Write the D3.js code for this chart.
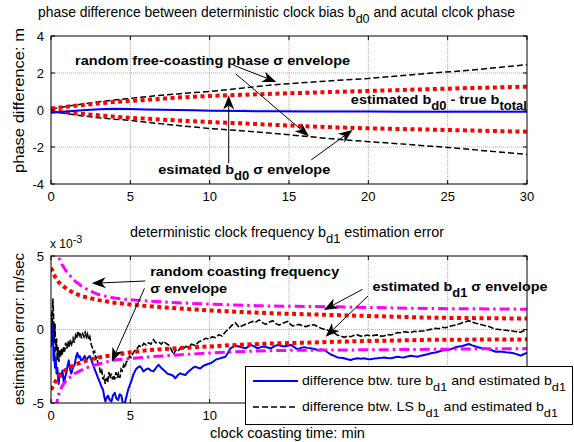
<!DOCTYPE html>
<html>
<head>
<meta charset="utf-8">
<script src="https://cdn.jsdelivr.net/npm/d3@7"></script>
<style>
  body { margin: 0; background: #fff; }
  svg { display: block; }
  text { font-family: "Liberation Sans", Arial, sans-serif; fill: #000; }
</style>
</head>
<body>
<svg id="chart" width="574" height="442"></svg>
<script>
// ---------- tick labels ----------
const timeTicks = [0, 5, 10, 15, 20, 25, 30];
const phaseTicks = [-4, -2, 0, 2, 4];
const freqTicks = [-5, 0, 5];

// ---------- phase panel (m) ----------
const phaseTime = [0, 1, 2, 3, 4, 5, 6, 7, 8, 9, 10, 12, 14, 16, 18, 20, 22, 24, 26, 28, 30];
const phaseRandomUpper = [0.05, 0.2, 0.33, 0.44, 0.54, 0.63, 0.72, 0.8, 0.87, 0.94, 1.0, 1.18, 1.36, 1.48, 1.6, 1.7, 1.85, 2.0, 2.12, 2.28, 2.45];
const phaseRandomLower = [-0.05, -0.2, -0.32, -0.42, -0.5, -0.56, -0.66, -0.75, -0.84, -0.92, -1.0, -1.12, -1.26, -1.42, -1.58, -1.71, -1.83, -1.96, -2.1, -2.25, -2.4];
const phaseEstUpper = [0.08, 0.18, 0.27, 0.36, 0.43, 0.49, 0.55, 0.61, 0.67, 0.72, 0.76, 0.82, 0.88, 0.93, 0.98, 1.03, 1.08, 1.13, 1.18, 1.22, 1.26];
const phaseEstLower = [-0.05, -0.13, -0.21, -0.29, -0.36, -0.42, -0.47, -0.52, -0.57, -0.61, -0.65, -0.72, -0.8, -0.88, -0.94, -0.99, -1.03, -1.06, -1.1, -1.14, -1.17];
const phaseError = [-0.15, -0.08, -0.02, 0.04, 0.07, 0.06, 0.03, 0.01, 0.0, -0.02, -0.04, -0.06, -0.07, -0.08, -0.08, -0.08, -0.09, -0.09, -0.09, -0.09, -0.09];

// ---------- frequency panel (x 1e-3 m/sec) ----------
const freqRandTime = [0.3, 0.45, 0.7, 1.0, 1.5, 2.0, 2.5, 3, 3.5, 4, 5, 6, 7, 8, 9, 10, 11.5, 13, 15, 17.5, 20, 22.5, 25, 27.5, 30];
const freqRandUpper = [5.8, 5.0, 4.4, 3.9, 3.3, 2.9, 2.6, 2.38, 2.25, 2.14, 2.02, 1.95, 1.88, 1.82, 1.77, 1.73, 1.67, 1.62, 1.58, 1.55, 1.5, 1.45, 1.42, 1.4, 1.38];
const freqRandLower = [-5.4, -4.5, -3.85, -3.4, -3.0, -2.72, -2.5, -2.35, -2.2, -2.08, -1.97, -1.88, -1.8, -1.73, -1.66, -1.6, -1.52, -1.46, -1.42, -1.4, -1.38, -1.36, -1.34, -1.31, -1.3];

const freqEstTime = [0, 0.25, 0.5, 1, 1.5, 2, 3, 4, 5, 6, 8, 10, 12, 14, 16, 18, 20, 22, 24, 26, 28, 30];
const freqEstUpper = [4.2, 3.6, 3.2, 2.75, 2.45, 2.25, 2.0, 1.82, 1.7, 1.6, 1.43, 1.3, 1.19, 1.1, 1.04, 0.98, 0.92, 0.86, 0.8, 0.78, 0.76, 0.75];
const freqEstLower = [-4.1, -3.6, -3.15, -2.68, -2.4, -2.18, -1.9, -1.73, -1.55, -1.42, -1.27, -1.15, -1.03, -0.95, -0.9, -0.83, -0.78, -0.74, -0.7, -0.69, -0.68, -0.67];

// LS estimate minus filter estimate
const lsTime = [0, 0.04, 0.08, 0.12, 0.16, 0.2, 0.25, 0.3, 0.35, 0.4, 0.45, 0.5, 0.55, 0.6, 0.65, 0.72, 0.8, 0.86, 0.92, 1.0,
  1.07, 1.15, 1.22, 1.3, 1.39, 1.47, 1.55, 1.62, 1.7, 1.78, 1.85, 1.92, 2.0, 2.08, 2.15, 2.23, 2.3, 2.38, 2.45, 2.53,
  2.6, 2.68, 2.75, 2.83, 2.9, 2.97, 3.05, 3.12, 3.2, 3.28, 3.35, 3.42, 3.5, 3.57, 3.65, 3.72, 3.8, 3.88, 3.95, 4.02,
  4.1, 4.18, 4.25, 4.34, 4.42, 4.5, 4.58, 4.66, 4.75, 4.86, 4.95, 5.05, 5.18, 5.3, 5.42, 5.55, 5.7, 5.85, 6.0, 6.15,
  6.3, 6.46, 6.6, 6.78, 6.95, 7.1, 7.25, 7.41, 7.55, 7.73, 7.85, 8.0, 8.15, 8.3, 8.5, 8.67, 8.85, 9.1, 9.3, 9.52,
  9.75, 9.94, 10.15, 10.36, 10.58, 10.78, 11.0, 11.2, 11.41, 11.62, 11.86, 12.05, 12.27, 12.5, 12.7, 12.9, 13.12, 13.35, 13.54, 13.75,
  13.96, 14.18, 14.38, 14.65, 14.91, 15.1, 15.22, 15.45, 15.65, 15.85, 16.07, 16.35, 16.6, 16.8, 17.01, 17.2, 17.43, 17.62, 17.85, 18.04,
  18.25, 18.47, 18.7, 18.89, 19.1, 19.31, 19.52, 19.73, 19.95, 20.15, 20.36, 20.57, 20.78, 20.99, 21.2, 21.42, 21.63, 21.84, 22.05, 22.26,
  22.47, 22.68, 22.89, 23.1, 23.31, 23.52, 23.73, 23.94, 24.24, 24.45, 24.66, 24.87, 25.08, 25.29, 25.5, 25.71, 25.92, 26.13, 26.34, 26.55,
  26.76, 26.97, 27.18, 27.39, 27.6, 27.82, 28.03, 28.24, 28.45, 28.66, 28.87, 29.08, 29.29, 29.45, 29.6, 29.75, 29.92, 30];
const lsError = [0.0, 1.2, 0.3, 2.1, 0.9, -0.9, 0.4, -1.5, -0.6, -2.1, -1.2, -2.2, -1.4, -1.9, -1.3, -1.7, -1.2, -1.5, -0.9, -1.3,
  -0.8, -1.2, -0.7, -1.0, -0.6, -0.9, -0.4, -0.6, -0.1, -0.4, -0.2, -0.6, -0.3, -0.5, -0.2, -0.5, -0.3, -0.7, -0.5, -1.0,
  -1.2, -1.6, -1.5, -2.0, -1.9, -2.4, -2.5, -3.0, -2.8, -3.4, -3.2, -3.7, -3.3, -3.6, -2.9, -3.3, -3.0, -3.4, -3.1, -3.4,
  -2.9, -3.3, -3.0, -3.3, -2.7, -2.8, -2.4, -2.6, -2.2, -2.1, -1.8, -1.9, -1.6, -1.4, -1.3, -1.1, -1.2, -0.95, -1.05, -0.9,
  -1.0, -0.7, -0.9, -0.85, -1.0, -0.8, -0.95, -1.05, -1.3, -1.7, -1.4, -1.5, -1.25, -1.35, -1.15, -1.2, -1.0, -1.1, -0.85, -0.75,
  -0.6, -0.65, -0.5, -0.55, -0.35, -0.45, -0.15, 0.05, 0.3, 0.45, 0.15, 0.25, 0.35, 0.45, 0.55, 0.5, 0.65, 0.45, 0.35, 0.5,
  0.6, 0.4, 0.3, 0.45, 0.55, 0.35, 0.25, 0.3, 0.35, 0.25, 0.2, 0.3, 0.32, 0.2, 0.08, 0.02, -0.03, -0.15, -0.25, -0.37,
  -0.45, -0.53, -0.45, -0.49, -0.4, -0.37, -0.45, -0.44, -0.38, -0.44, -0.4, -0.37, -0.45, -0.44, -0.35, -0.37, -0.3, -0.2, -0.22, -0.15,
  -0.18, -0.2, -0.12, -0.15, -0.1, -0.1, -0.04, 0.01, 0.08, 0.05, 0.15, 0.12, 0.2, 0.25, 0.31, 0.38, 0.46, 0.52, 0.6, 0.5,
  0.42, 0.38, 0.31, 0.25, 0.2, 0.1, 0.03, 0.0, -0.03, -0.05, -0.08, -0.1, -0.15, -0.12, -0.2, -0.1, -0.03, -0.05];

// true value minus filter estimate
const trueTime = [0, 0.03, 0.06, 0.09, 0.12, 0.16, 0.2, 0.25, 0.3, 0.35, 0.4, 0.48, 0.55, 0.65, 0.72, 0.82, 0.9, 0.96, 1.04, 1.12,
  1.2, 1.28, 1.38, 1.49, 1.57, 1.66, 1.74, 1.81, 1.9, 2.02, 2.12, 2.23, 2.33, 2.44, 2.55, 2.65, 2.75, 2.86, 2.97, 3.08,
  3.18, 3.28, 3.36, 3.43, 3.52, 3.6, 3.7, 3.81, 3.9, 4.02, 4.12, 4.23, 4.33, 4.44, 4.52, 4.6, 4.7, 4.86, 4.96, 5.07,
  5.18, 5.33, 5.45, 5.62, 5.75, 5.83, 6.0, 6.15, 6.3, 6.46, 6.62, 6.78, 6.9, 6.99, 7.15, 7.31, 7.45, 7.62, 7.75, 7.83,
  8.0, 8.15, 8.3, 8.47, 8.62, 8.78, 8.95, 9.1, 9.25, 9.41, 9.57, 9.73, 9.9, 10.04, 10.2, 10.36, 10.52, 10.68, 10.84, 10.99,
  11.15, 11.31, 11.45, 11.62, 11.86, 12.05, 12.27, 12.45, 12.59, 12.8, 13.01, 13.22, 13.43, 13.64, 13.85, 14.06, 14.28, 14.49, 14.7, 14.91,
  15.12, 15.33, 15.54, 15.75, 15.96, 16.17, 16.38, 16.59, 16.8, 17.01, 17.23, 17.43, 17.64, 17.85, 18.05, 18.26, 18.47, 18.68, 18.89, 19.1,
  19.31, 19.52, 19.73, 19.94, 20.15, 20.36, 20.57, 20.78, 20.99, 21.2, 21.42, 21.63, 21.84, 22.05, 22.26, 22.47, 22.68, 22.89, 23.1, 23.31,
  23.52, 23.73, 23.94, 24.24, 24.45, 24.66, 24.87, 25.08, 25.29, 25.5, 25.71, 25.92, 26.13, 26.34, 26.55, 26.76, 26.97, 27.18, 27.39, 27.6,
  27.82, 28.03, 28.24, 28.45, 28.66, 28.87, 29.08, 29.29, 29.45, 29.6, 29.75, 29.92, 30];
const trueError = [-1.2, -0.3, 0.3, -0.8, 0.2, -2.1, -1.2, -2.6, -1.9, -3.0, -2.6, -3.7, -3.0, -3.2, -2.8, -3.7, -3.2, -3.0, -2.5, -2.1,
  -2.7, -3.0, -2.6, -2.4, -1.9, -1.6, -1.9, -1.8, -2.1, -2.0, -1.8, -2.1, -1.9, -1.8, -2.1, -2.4, -2.7, -3.0, -3.3, -3.6,
  -3.9, -4.1, -4.6, -4.9, -4.6, -4.5, -4.8, -4.9, -4.5, -4.3, -4.7, -4.8, -4.4, -4.5, -5.0, -5.3, -4.8, -4.1, -3.8, -3.5,
  -3.1, -2.75, -2.6, -2.5, -2.7, -2.85, -2.7, -2.65, -2.8, -2.85, -2.6, -2.4, -2.55, -2.65, -2.8, -2.98, -3.05, -3.1, -3.2, -3.32,
  -3.1, -2.98, -3.05, -3.1, -2.9, -2.75, -2.6, -2.53, -2.6, -2.65, -2.5, -2.41, -2.35, -2.3, -2.2, -2.07, -2.0, -1.96, -1.9, -1.85,
  -1.6, -1.28, -1.2, -1.1, -1.16, -1.22, -1.28, -1.15, -1.05, -1.15, -1.28, -1.2, -1.16, -1.22, -1.28, -1.15, -1.05, -1.1, -1.16, -1.1,
  -1.05, -1.2, -1.35, -1.25, -1.2, -1.25, -1.28, -1.33, -1.39, -1.36, -1.39, -1.55, -1.7, -1.8, -1.9, -1.92, -1.96, -2.02, -2.07, -2.0,
  -1.96, -1.99, -1.96, -2.0, -2.03, -1.98, -1.96, -1.93, -1.9, -1.94, -1.96, -1.9, -1.85, -1.88, -1.9, -1.83, -1.78, -1.82, -1.85, -1.78,
  -1.73, -1.68, -1.62, -1.57, -1.5, -1.43, -1.42, -1.39, -1.3, -1.21, -1.16, -1.12, -1.05, -0.99, -1.08, -1.16, -1.22, -1.28, -1.3, -1.35,
  -1.43, -1.51, -1.49, -1.51, -1.55, -1.57, -1.6, -1.66, -1.72, -1.78, -1.7, -1.62, -1.6];

// ---------- layout ----------
const svg = d3.select("#chart");
const plotLeft = 51, plotRight = 527;
const topPanel = { top: 36, bottom: 184 };
const botPanel = { top: 256, bottom: 403 };
const legendBox = { x: 245.5, y: 366.5, w: 327, h: 58 };

const x = d3.scaleLinear().domain([0, 30]).range([plotLeft, plotRight]);
const yPhase = d3.scaleLinear().domain([-4, 4]).range([topPanel.bottom, topPanel.top]);
const yFreq = d3.scaleLinear().domain([-5, 5]).range([botPanel.bottom, botPanel.top]);

const defs = svg.append("defs");
function clip(id, p) {
  defs.append("clipPath").attr("id", id).append("rect")
    .attr("x", plotLeft).attr("y", p.top)
    .attr("width", plotRight - plotLeft).attr("height", p.bottom - p.top);
}
clip("clipTop", topPanel);
clip("clipBot", botPanel);

// text with TeX-like sub/superscripts: parts = [[string, "sub"|"sup"|undefined], ...]
// an optional span length stretches the run to a fixed width
function richText(g, px, py, parts, size, weight, span) {
  const t = g.append("text").attr("x", px).attr("y", py)
    .attr("font-size", size).attr("font-weight", weight || "normal");
  let offset = 0;
  parts.forEach(([s, kind]) => {
    const target = kind === "sub" ? Math.round(size * 0.45) : (kind === "sup" ? -Math.round(size * 0.45) : 0);
    const ts = t.append("tspan").text(s).attr("dy", target - offset);
    if (kind) ts.attr("font-size", size * 0.9);
    offset = target;
  });
  if (span) t.attr("textLength", span).attr("lengthAdjust", "spacingAndGlyphs");
  return t;
}

function panelFrame(p, yScale, gridY) {
  const g = svg.append("g");
  g.selectAll(".gx").data(timeTicks.slice(1, -1)).join("line")
    .attr("x1", d => x(d)).attr("x2", d => x(d))
    .attr("y1", p.top).attr("y2", p.bottom)
    .attr("stroke", "#9a9a9a").attr("stroke-width", 0.8).attr("stroke-dasharray", "1,1");
  g.selectAll(".gy").data(gridY).join("line")
    .attr("x1", plotLeft).attr("x2", plotRight)
    .attr("y1", d => yScale(d)).attr("y2", d => yScale(d))
    .attr("stroke", "#9a9a9a").attr("stroke-width", 0.8).attr("stroke-dasharray", "1,1");
  return g;
}

// xLabelTicks: which time ticks get a visible label (the legend sits over the rest)
function panelAxes(p, yScale, yTicks, xLabelTicks) {
  const g = svg.append("g");
  const tl = 4;
  g.append("rect").attr("x", plotLeft).attr("y", p.top)
    .attr("width", plotRight - plotLeft).attr("height", p.bottom - p.top)
    .attr("fill", "none").attr("stroke", "#000").attr("stroke-width", 1);
  // inward ticks on all four sides
  timeTicks.forEach(d => {
    g.append("line").attr("x1", x(d)).attr("x2", x(d)).attr("y1", p.bottom).attr("y2", p.bottom - tl).attr("stroke", "#000");
    g.append("line").attr("x1", x(d)).attr("x2", x(d)).attr("y1", p.top).attr("y2", p.top + tl).attr("stroke", "#000");
  });
  yTicks.forEach(d => {
    g.append("line").attr("x1", plotLeft).attr("x2", plotLeft + tl).attr("y1", yScale(d)).attr("y2", yScale(d)).attr("stroke", "#000");
    g.append("line").attr("x1", plotRight).attr("x2", plotRight - tl).attr("y1", yScale(d)).attr("y2", yScale(d)).attr("stroke", "#000");
  });
  g.selectAll(".xl").data(xLabelTicks).join("text")
    .attr("x", d => x(d)).attr("y", p.bottom + 16.5)
    .attr("text-anchor", "middle").attr("font-size", 13).text(d => d);
  g.selectAll(".yl").data(yTicks).join("text")
    .attr("x", plotLeft - 7).attr("y", d => yScale(d) + 4.7)
    .attr("text-anchor", "end").attr("font-size", 13).text(d => d);
  return g;
}

const lineGen = (yScale) => d3.line().x(d => x(d[0])).y(d => yScale(d[1]));
const zip = (a, b) => a.map((v, i) => [v, b[i]]);

// ================= phase panel =================
panelFrame(topPanel, yPhase, [-2, 0, 2]);
const gTop = svg.append("g").attr("clip-path", "url(#clipTop)");
[phaseRandomUpper, phaseRandomLower].forEach(s => {
  gTop.append("path").attr("d", lineGen(yPhase)(zip(phaseTime, s)))
    .attr("fill", "none").attr("stroke", "#000").attr("stroke-width", 1.5).attr("stroke-dasharray", "6,3");
});
[phaseEstUpper, phaseEstLower].forEach(s => {
  gTop.append("path").attr("d", lineGen(yPhase)(zip(phaseTime, s)))
    .attr("fill", "none").attr("stroke", "#ff0000").attr("stroke-width", 4).attr("stroke-dasharray", "4,3.5");
});
gTop.append("path").attr("d", lineGen(yPhase)(zip(phaseTime, phaseError)))
  .attr("fill", "none").attr("stroke", "#0000ff").attr("stroke-width", 2);
panelAxes(topPanel, yPhase, phaseTicks, timeTicks);

// ================= frequency panel =================
panelFrame(botPanel, yFreq, [0]);
const gBot = svg.append("g").attr("clip-path", "url(#clipBot)");
gBot.append("path").attr("d", lineGen(yFreq)(zip(trueTime, trueError)))
  .attr("fill", "none").attr("stroke", "#0000ff").attr("stroke-width", 2).attr("stroke-linejoin", "round");
gBot.append("path").attr("d", lineGen(yFreq)(zip(lsTime, lsError)))
  .attr("fill", "none").attr("stroke", "#000").attr("stroke-width", 1.6).attr("stroke-dasharray", "6,2");
[freqEstUpper, freqEstLower].forEach(s => {
  gBot.append("path").attr("d", lineGen(yFreq)(zip(freqEstTime, s)))
    .attr("fill", "none").attr("stroke", "#ff0000").attr("stroke-width", 4).attr("stroke-dasharray", "4,3.5");
});
[freqRandUpper, freqRandLower].forEach(s => {
  gBot.append("path").attr("d", lineGen(yFreq)(zip(freqRandTime, s)))
    .attr("fill", "none").attr("stroke", "#ff00ff").attr("stroke-width", 3).attr("stroke-dasharray", "10,4,2.5,4");
});
panelAxes(botPanel, yFreq, freqTicks, timeTicks.filter(d => x(d) + 10 < legendBox.x));

// ================= arrows =================
function arrow(yScale, from, to) {
  const x0 = x(from[0]), y0 = yScale(from[1]), x1 = x(to[0]), y1 = yScale(to[1]);
  const ang = Math.atan2(y1 - y0, x1 - x0);
  const L = 14, W = 5.5, notch = 4;
  const ux = Math.cos(ang), uy = Math.sin(ang);
  const bx = x1 - ux * L, by = y1 - uy * L;
  const nx = x1 - ux * (L - notch), ny = y1 - uy * (L - notch);
  svg.append("line").attr("x1", x0).attr("y1", y0).attr("x2", nx).attr("y2", ny)
    .attr("stroke", "#000").attr("stroke-width", 1);
  svg.append("path").attr("d",
    `M${x1},${y1}L${bx - uy * W},${by + ux * W}L${nx},${ny}L${bx + uy * W},${by - ux * W}Z`)
    .attr("fill", "#000");
}
arrow(yPhase, [11.5, 2.42], [14.2, 1.52]);
arrow(yPhase, [11.65, 1.95], [16.25, -1.42]);
arrow(yPhase, [11.2, -2.88], [11.2, 0.78]);
arrow(yPhase, [16.4, -2.7], [19.0, -1.08]);

arrow(yFreq, [5.94, 3.3], [2.57, 3.14]);
arrow(yFreq, [5.89, 2.8], [3.83, -2.19]);
arrow(yFreq, [19.63, 2.73], [17.2, 1.33]);
arrow(yFreq, [19.98, 2.28], [17.31, -0.49]);

// ================= annotations =================
const ann = svg.append("g");
richText(ann, x(1.52), yPhase(2.43), [["random free-coasting phase "], ["σ"], [" envelope"]], 13, "bold", 275);
richText(ann, x(18.9), yPhase(0.32), [["estimated b"], ["d0", "sub"], [" - true b"], ["total", "sub"]], 13.5, "bold", 176);
richText(ann, x(6.76), yPhase(-3.46), [["esimated b"], ["d0", "sub"], [" σ envelope"]], 13.5, "bold", 172);

richText(ann, x(6.25), yFreq(3.64), [["random coasting frequency"]], 13.5, "bold", 189);
richText(ann, x(6.25), yFreq(2.48), [["σ envelope"]], 13.5, "bold", 77);
richText(ann, x(20.26), yFreq(2.64), [["estimated b"], ["d1", "sub"], [" σ envelope"]], 13.5, "bold", 175);

// ================= titles and labels =================
richText(svg, 38, 17, [["phase difference between deterministic clock bias b"], ["d0", "sub"], [" and acutal clcok phase"]], 14, "normal", 477);
richText(svg, 130, 237, [["deterministic clock frequency b"], ["d1", "sub"], [" estimation error"]], 14, "normal", 314);
svg.append("text").attr("x", 210).attr("y", 438)
  .attr("font-size", 14.5).attr("textLength", 155).attr("lengthAdjust", "spacingAndGlyphs")
  .text("clock coasting time: min");
svg.append("text").attr("transform", `translate(24,173) rotate(-90)`)
  .attr("font-size", 14.5).attr("textLength", 145).attr("lengthAdjust", "spacingAndGlyphs")
  .text("phase difference: m");
svg.append("text").attr("transform", `translate(24,405) rotate(-90)`)
  .attr("font-size", 14.5).attr("textLength", 152).attr("lengthAdjust", "spacingAndGlyphs")
  .text("estimation error: m/sec");
richText(svg, 50, 248, [["x 10"], ["-3", "sup"]], 12);

// ================= legend =================
const leg = svg.append("g");
leg.append("rect").attr("x", legendBox.x).attr("y", legendBox.y).attr("width", legendBox.w).attr("height", legendBox.h)
  .attr("fill", "#fff").attr("stroke", "#000").attr("stroke-width", 1);
leg.append("line").attr("x1", 253).attr("x2", 298).attr("y1", 381).attr("y2", 381)
  .attr("stroke", "#0000ff").attr("stroke-width", 2);
leg.append("line").attr("x1", 253).attr("x2", 298).attr("y1", 407).attr("y2", 407)
  .attr("stroke", "#000").attr("stroke-width", 1.6).attr("stroke-dasharray", "6,3");
richText(leg, 302, 385, [["difference btw. ture b"], ["d1", "sub"], [" and estimated b"], ["d1", "sub"]], 13, "normal", 264);
richText(leg, 302, 411, [["difference btw. LS b"], ["d1", "sub"], [" and estimated b"], ["d1", "sub"]], 13, "normal", 256);
</script>
</body>
</html>
